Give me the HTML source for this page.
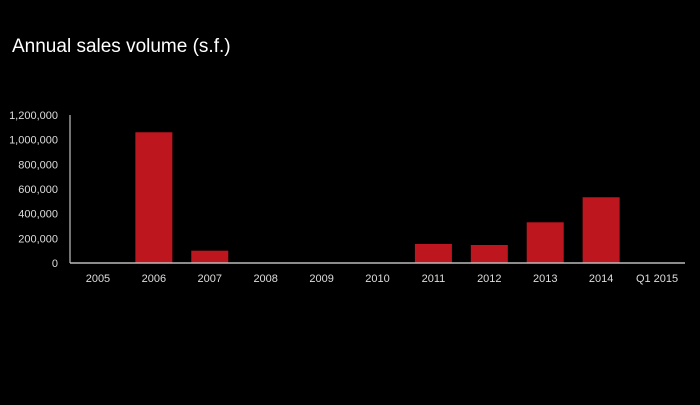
<!DOCTYPE html>
<html><head><meta charset="utf-8"><style>
body{margin:0;background:#000;width:700px;height:400px;overflow:hidden;font-family:"Liberation Sans",Arial,sans-serif}
</style></head><body>
<svg width="700" height="400">
<text x="12" y="52" fill="#fff" font-size="19">Annual sales volume (s.f.)</text>
<g id="g"></g>
</svg>
<script>
const categories=["2005","2006","2007","2008","2009","2010","2011","2012","2013","2014","Q1 2015"];
const values=[0,1060000,100000,0,0,0,154000,146000,330000,533000,0];
const yTicks=[0,200000,400000,600000,800000,1000000,1200000];
const x0=70,x1=685,y0=263,yTop=115,yMax=1200000;
const band=(x1-x0)/categories.length;
const yS=v=>y0-(v/yMax)*(y0-yTop);
const xC=i=>x0+band*(i+0.5);
const g=document.getElementById('g');const ns='http://www.w3.org/2000/svg';
function mk(t,a){const e=document.createElementNS(ns,t);for(const k in a)e.setAttribute(k,a[k]);g.appendChild(e);return e;}
yTicks.forEach(v=>{const t=mk('text',{x:58,y:yS(v)+4,fill:'#ddd','font-size':11,'text-anchor':'end'});t.textContent=v.toLocaleString('en-US');

});
values.forEach((v,i)=>{if(v<=0)return;const r=mk('rect',{x:xC(i)-18.5,y:yS(v),width:37,height:y0-yS(v),fill:'#be161e'});

});
categories.forEach((c,i)=>{const t=mk('text',{x:xC(i),y:282,fill:'#ddd','font-size':11,'text-anchor':'middle'});t.textContent=c;

});
const ya=mk('line',{x1:x0,y1:yTop,x2:x0,y2:y0,stroke:'#999','stroke-width':1.5});


const xa=mk('line',{x1:x0,y1:y0,x2:x1,y2:y0,stroke:'#bbb','stroke-width':1.5});


</script>
</body></html>
